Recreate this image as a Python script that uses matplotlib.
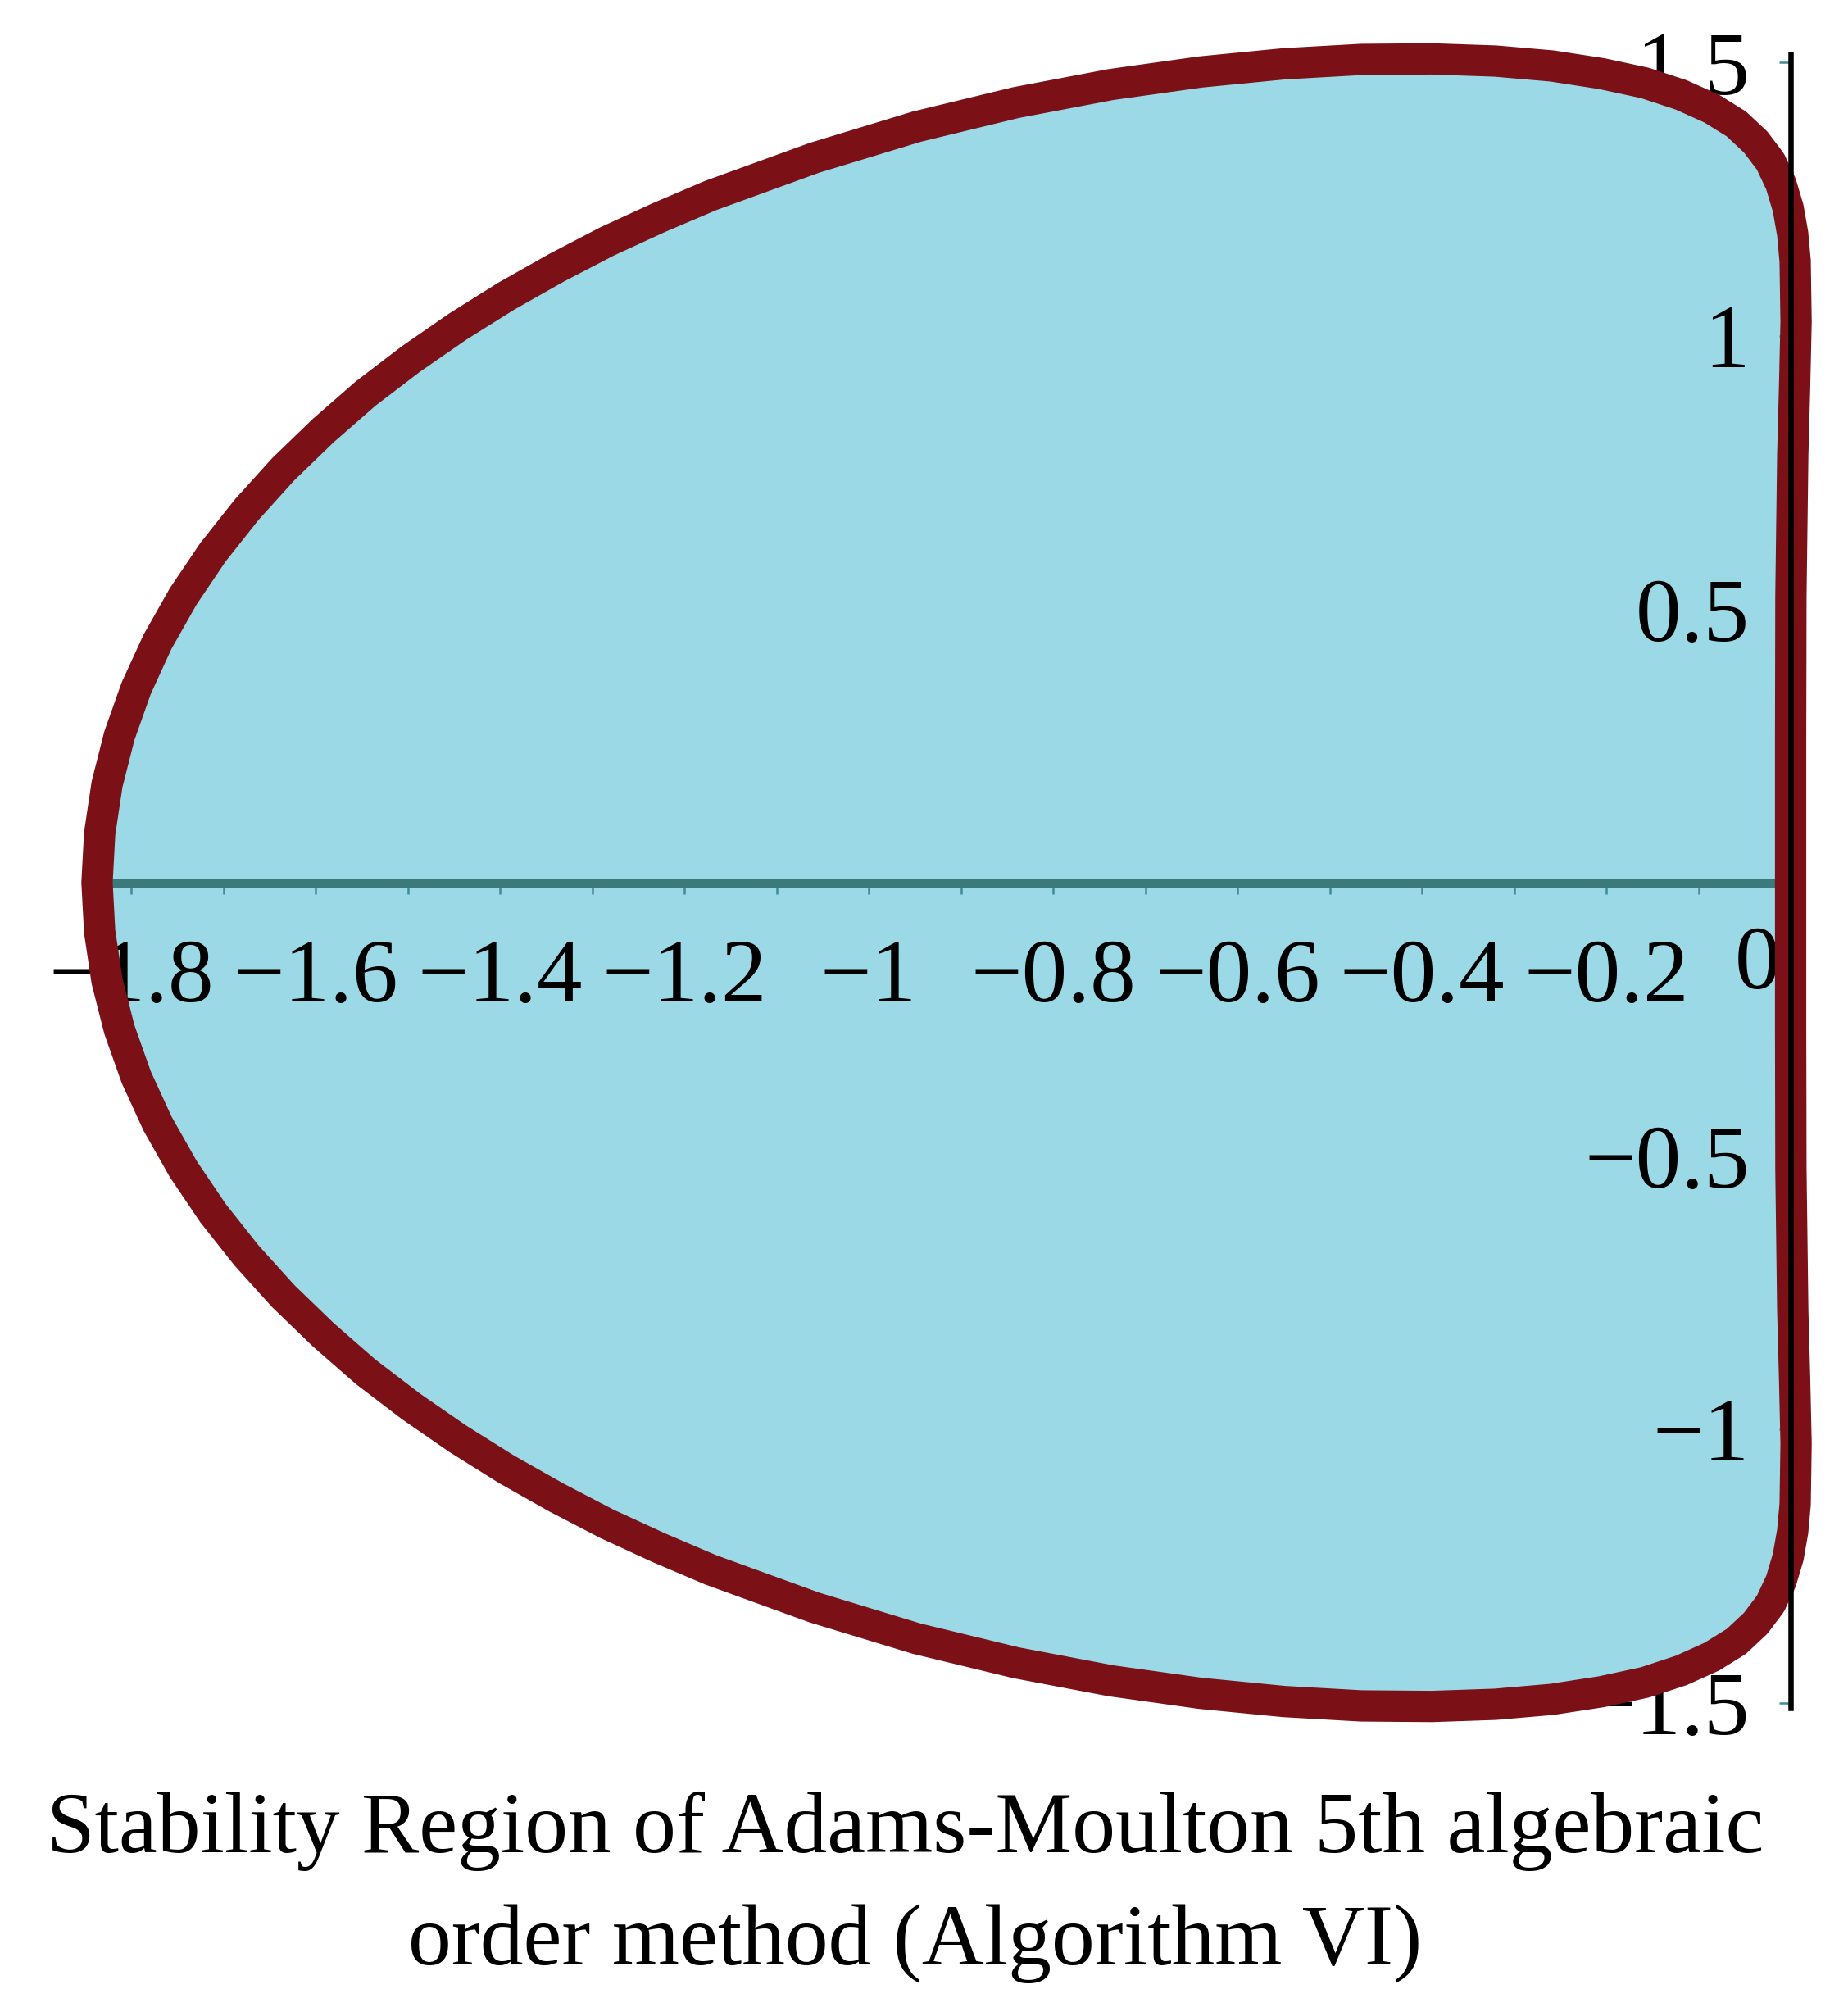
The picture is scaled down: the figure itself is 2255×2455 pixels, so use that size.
import matplotlib
matplotlib.use("Agg")
import matplotlib.pyplot as plt

# ---------------- data ----------------
# boundary of the stability region (Re z, Im z), closed contour
boundary_re = [0.0, 0.0000, 0.0003, 0.0023, 0.0043, 0.0059, 0.0049, 0.0022, -0.0027,
               -0.0105, -0.0219, -0.0380, -0.0589, -0.0856, -0.1185, -0.1581, -0.2049,
               -0.2588, -0.3202, -0.3892, -0.4656, -0.5494, -0.6402, -0.7374, -0.8403,
               -0.9479, -1.0589, -1.1715, -1.2278, -1.2838, -1.3388, -1.3930, -1.4457,
               -1.4965, -1.5458, -1.5916, -1.6350, -1.6748, -1.7112, -1.7434, -1.7713,
               -1.7944, -1.8127, -1.8261, -1.8341, -1.8370,
               -1.8341, -1.8261, -1.8127, -1.7944, -1.7713, -1.7434, -1.7112, -1.6748,
               -1.6350, -1.5916, -1.5458, -1.4965, -1.4457, -1.3930, -1.3388, -1.2838,
               -1.2278, -1.1715, -1.0589, -0.9479, -0.8403, -0.7374, -0.6402, -0.5494,
               -0.4656, -0.3892, -0.3202, -0.2588, -0.2049, -0.1581, -0.1185, -0.0856,
               -0.0589, -0.0380, -0.0219, -0.0105, -0.0027, 0.0022, 0.0049, 0.0059,
               0.0043, 0.0023, 0.0003, 0.0000, 0.0]
boundary_im = [0.0, 0.262, 0.523, 0.782, 0.907, 1.026, 1.137, 1.187, 1.234,
               1.278, 1.319, 1.355, 1.388, 1.416, 1.441, 1.463, 1.480,
               1.494, 1.503, 1.507, 1.506, 1.498, 1.483, 1.460, 1.427,
               1.383, 1.326, 1.257, 1.2165, 1.173, 1.1247, 1.073, 1.0173,
               0.958, 0.8945, 0.827, 0.7563, 0.682, 0.6045, 0.524, 0.4409,
               0.356, 0.2689, 0.180, 0.0901, 0.0,
               -0.0901, -0.180, -0.2689, -0.356, -0.4409, -0.524, -0.6045, -0.682,
               -0.7563, -0.827, -0.8945, -0.958, -1.0173, -1.073, -1.1247, -1.173,
               -1.2165, -1.257, -1.326, -1.383, -1.427, -1.460, -1.483, -1.498,
               -1.506, -1.507, -1.503, -1.494, -1.480, -1.463, -1.441, -1.416,
               -1.388, -1.355, -1.319, -1.278, -1.234, -1.187, -1.137, -1.026,
               -0.907, -0.782, -0.523, -0.262, 0.0]

xtick_values = [-1.8, -1.6, -1.4, -1.2, -1.0, -0.8, -0.6, -0.4, -0.2]
xtick_labels = ["\u22121.8", "\u22121.6", "\u22121.4", "\u22121.2", "\u22121",
                "\u22120.8", "\u22120.6", "\u22120.4", "\u22120.2"]
xminor_values = [-1.7, -1.5, -1.3, -1.1, -0.9, -0.7, -0.5, -0.3, -0.1]
ytick_values = [-1.5, -1.0, -0.5, 0.5, 1.0, 1.5]
ytick_labels = ["\u22121.5", "\u22121", "\u22120.5", "0.5", "1", "1.5"]
origin_label = "0"
title_lines = ["Stability Region of Adams-Moulton 5th algebraic",
               "order method (Algorithm VI)"]

# ---------------- style / layout ----------------
FILL = "#9BD9E7"
RED = "#7B1016"
TEAL = "#3B7A7B"
TICKC = "#3E8E92"

plt.rcParams["font.family"] = ["Liberation Serif", "DejaVu Serif"]

W, H, DPI = 2255, 2455, 100
fig = plt.figure(figsize=(W / DPI, H / DPI), dpi=DPI, facecolor="white")

# pixel mapping of data coordinates (from the reference)
X0_PX, XSCALE = 2185.0, 1125.0     # x = 0 column, px per unit
Y0_PX, YSCALE = 1077.0, 667.0      # y = 0 row (from top), px per unit
xlim = (-1.84, 0.008)
ylim = (-1.51, 1.515)

left_px = X0_PX + XSCALE * xlim[0]
right_px = X0_PX + XSCALE * xlim[1]
top_px = Y0_PX - YSCALE * ylim[1]
bot_px = Y0_PX - YSCALE * ylim[0]
ax = fig.add_axes([left_px / W, (H - bot_px) / H,
                   (right_px - left_px) / W, (bot_px - top_px) / H])
ax.set_xlim(*xlim)
ax.set_ylim(*ylim)
ax.set_facecolor("none")

ax.fill(boundary_re, boundary_im, color=FILL, lw=0, zorder=1)
ax.plot(boundary_re, boundary_im, color=RED, lw=27.5, solid_joinstyle="round",
        solid_capstyle="round", clip_on=False, zorder=3)

for s in ("top", "right"):
    ax.spines[s].set_visible(False)
ax.spines["bottom"].set_position(("data", 0))
ax.spines["bottom"].set_color(TEAL)
ax.spines["bottom"].set_linewidth(7.9)
ax.spines["bottom"].set_zorder(2)
ax.spines["left"].set_position(("data", 0))
ax.spines["left"].set_color("black")
ax.spines["left"].set_linewidth(4.7)
ax.spines["left"].set_zorder(4)

ax.set_xticks(xtick_values, xtick_labels)
ax.set_xticks(xminor_values, minor=True)
ax.set_yticks(ytick_values, ytick_labels)
ax.tick_params(axis="x", which="both", direction="out", length=10, width=1.8,
               color=TICKC, pad=39, labelsize=80, labelcolor="black")
ax.tick_params(axis="y", which="both", direction="out", length=10, width=1.8,
               color=TICKC, pad=26, labelsize=80, labelcolor="black")

ax.text(-0.0356, -0.153, origin_label, ha="center", va="center", fontsize=80,
        color="black", zorder=2.6)

fig.text(0.49, 0.0794, title_lines[0], ha="center", va="baseline", fontsize=76,
         color="black")
fig.text(0.495, 0.0236, title_lines[1], ha="center", va="baseline", fontsize=76,
         color="black")

fig.savefig("out.png", dpi=DPI, facecolor="white")
